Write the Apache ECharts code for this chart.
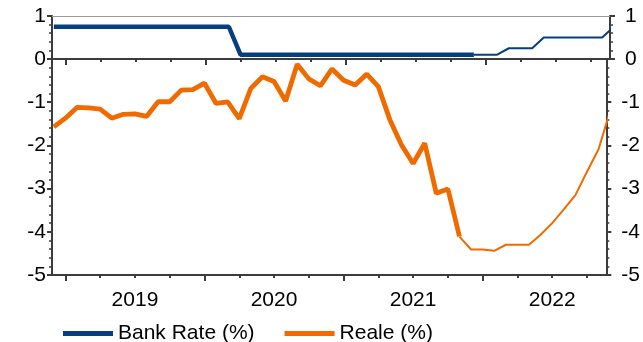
<!DOCTYPE html>
<html>
<head>
<meta charset="utf-8">
<script src="https://cdn.jsdelivr.net/npm/echarts@6/dist/echarts.min.js"></script>
<style>
  html, body { margin: 0; padding: 0; background: #ffffff; }
  #chart { width: 643px; height: 342px; }
</style>
</head>
<body>
<div id="chart"></div>
<script>
// Monthly observations, Dec 2018 – Dec 2022
const months = [
  '2018-12',
  '2019-01','2019-02','2019-03','2019-04','2019-05','2019-06','2019-07','2019-08','2019-09','2019-10','2019-11','2019-12',
  '2020-01','2020-02','2020-03','2020-04','2020-05','2020-06','2020-07','2020-08','2020-09','2020-10','2020-11','2020-12',
  '2021-01','2021-02','2021-03','2021-04','2021-05','2021-06','2021-07','2021-08','2021-09','2021-10','2021-11','2021-12',
  '2022-01','2022-02','2022-03','2022-04','2022-05','2022-06','2022-07','2022-08','2022-09','2022-10','2022-11','2022-12'
];

// Bank Rate (%)
const bankRate = [
  0.75,
  0.75, 0.75, 0.75, 0.75, 0.75, 0.75, 0.75, 0.75, 0.75, 0.75, 0.75, 0.75,
  0.75, 0.75, 0.75, 0.10, 0.10, 0.10, 0.10, 0.10, 0.10, 0.10, 0.10, 0.10,
  0.10, 0.10, 0.10, 0.10, 0.10, 0.10, 0.10, 0.10, 0.10, 0.10, 0.10, 0.10,
  0.10, 0.10, 0.25, 0.25, 0.25, 0.50, 0.50, 0.50, 0.50, 0.50, 0.50, 0.75
];

// Reale (%)
const reale = [
  -1.57,
  -1.37, -1.12, -1.13, -1.16, -1.37, -1.28, -1.27, -1.33, -0.99, -0.99, -0.72, -0.71,
  -0.56, -1.03, -0.99, -1.38, -0.68, -0.41, -0.52, -0.97, -0.12, -0.46, -0.62, -0.23,
  -0.49, -0.60, -0.35, -0.64, -1.41, -1.99, -2.42, -1.95, -3.11, -3.01, -4.11, -4.41,
  -4.41, -4.44, -4.30, -4.30, -4.30, -4.07, -3.80, -3.48, -3.15, -2.61, -2.09, -1.20
];

// Last month drawn with the heavy (outturn) line
const bankRateOutturnEnd = '2021-12';
const realeOutturnEnd = '2021-11';

// x-axis annotation
const yearTicks = ['2019-01', '2020-01', '2021-01', '2022-01'];
const quarterTicks = [
  '2019-01','2019-04','2019-07','2019-10','2020-01','2020-04','2020-07','2020-10',
  '2021-01','2021-04','2021-07','2021-10','2022-01','2022-04','2022-07','2022-10'
];
const yearLabels = ['2019', '2020', '2021', '2022'];

// month string -> months since Jan 2019
function monthIndex(s) {
  const [y, m] = s.split('-').map(Number);
  return (y - 2019) * 12 + (m - 1);
}

function pairs(values) {
  return months.map((m, i) => [monthIndex(m), values[i]]);
}

function split(values, endMonth) {
  const all = pairs(values);
  const cut = months.indexOf(endMonth);
  return { heavy: all.slice(0, cut + 1), light: all.slice(cut) };
}

const bankParts = split(bankRate, bankRateOutturnEnd);
const realeParts = split(reale, realeOutturnEnd);

const BLUE = '#063f7f';
const ORANGE = '#ef6b00';
const AXIS = '#3c3c3c';
const FONT = 'Liberation Sans';
const X_MIN = -1.157;
const X_MAX = 46.67;
const yearCenters = [6, 18, 30, 42];

const chart = echarts.init(document.getElementById('chart'), null, { renderer: 'canvas' });

function quarterAxis(gridIndex) {
  return {
    type: 'value', gridIndex, position: 'bottom', min: X_MIN, max: X_MAX,
    axisLine: { show: true, onZero: false, lineStyle: { color: AXIS, width: 2 } },
    axisTick: { show: true, length: 3, customValues: quarterTicks.map(monthIndex),
                lineStyle: { color: AXIS, width: 2 } },
    axisLabel: { show: false }, splitLine: { show: false }
  };
}

function yearAxis(gridIndex, withLabels) {
  return {
    type: 'value', gridIndex, position: 'bottom', min: X_MIN, max: X_MAX,
    axisLine: { show: false, onZero: false },
    axisTick: { show: true, length: 6, customValues: yearTicks.map(monthIndex),
                lineStyle: { color: AXIS, width: 2 } },
    axisLabel: withLabels ? {
      show: true, customValues: yearCenters, margin: 15,
      color: '#000', fontSize: 21, fontFamily: FONT,
      formatter: v => yearLabels[yearCenters.indexOf(Math.round(v))] || ''
    } : { show: false },
    splitLine: { show: false }
  };
}

function yAxis(gridIndex, position, min, max, hideMax) {
  return {
    type: 'value', gridIndex, position, min, max, interval: 1,
    axisLine: { show: true, onZero: false, lineStyle: { color: AXIS, width: 2 } },
    axisTick: { show: true, length: 5, lineStyle: { color: AXIS, width: 2 } },
    minorTick: { show: true, splitNumber: 5, length: 3, lineStyle: { color: AXIS, width: 1.5 } },
    axisLabel: {
      show: true, color: '#000', fontSize: 21, fontFamily: FONT,
      margin: position === 'left' ? 6 : 15,
      showMaxLabel: !hideMax
    },
    splitLine: { show: false }, minorSplitLine: { show: false }
  };
}

chart.setOption({
  animation: false,
  backgroundColor: '#ffffff',
  grid: [
    { left: 52, right: 33, top: 16, height: 43 },
    { left: 52, right: 33, top: 59, height: 216 }
  ],
  xAxis: [
    quarterAxis(0),
    yearAxis(0, false),
    { type: 'value', gridIndex: 0, position: 'top', min: X_MIN, max: X_MAX,
      axisLine: { show: true, onZero: false, lineStyle: { color: '#9a9a9a', width: 1 } },
      axisTick: { show: false }, axisLabel: { show: false }, splitLine: { show: false } },
    quarterAxis(1),
    yearAxis(1, true)
  ],
  yAxis: [
    yAxis(0, 'left', 0, 1, false),
    yAxis(0, 'right', 0, 1, false),
    yAxis(1, 'left', -5, 0, true),
    yAxis(1, 'right', -5, 0, true)
  ],
  legend: {
    left: 58, top: 318,
    data: ['Bank Rate (%)', 'Reale (%)'],
    icon: 'rect', itemWidth: 50, itemHeight: 5, itemGap: 30,
    textStyle: { color: '#000', fontSize: 21, fontFamily: FONT }
  },
  series: [
    { name: 'Bank Rate (%)', type: 'line', xAxisIndex: 0, yAxisIndex: 0,
      data: bankParts.heavy, showSymbol: false, symbol: 'none',
      lineStyle: { color: BLUE, width: 4.5 }, itemStyle: { color: BLUE } },
    { name: 'Bank Rate forward', type: 'line', xAxisIndex: 0, yAxisIndex: 0,
      data: bankParts.light, showSymbol: false, symbol: 'none',
      lineStyle: { color: BLUE, width: 2 }, itemStyle: { color: BLUE } },
    { name: 'Reale (%)', type: 'line', xAxisIndex: 3, yAxisIndex: 2,
      data: realeParts.heavy, showSymbol: false, symbol: 'none',
      lineStyle: { color: ORANGE, width: 4.8 }, itemStyle: { color: ORANGE } },
    { name: 'Reale forward', type: 'line', xAxisIndex: 3, yAxisIndex: 2,
      data: realeParts.light, showSymbol: false, symbol: 'none',
      lineStyle: { color: ORANGE, width: 2 }, itemStyle: { color: ORANGE } }
  ]
});
</script>
</body>
</html>
